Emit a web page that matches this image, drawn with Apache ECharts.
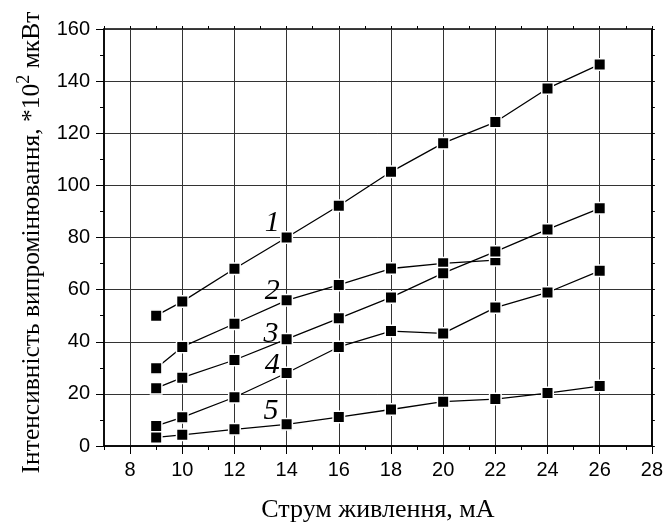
<!DOCTYPE html>
<html lang="uk">
<head>
<meta charset="UTF-8">
<title>Інтенсивність випромінювання</title>
<script src="https://cdn.jsdelivr.net/npm/echarts@6/dist/echarts.min.js"></script>
<style>
    html,body{margin:0;padding:0;background:#fff}
    #main{width:666px;height:528px}
</style>
</head>
<body>
<div id="main"></div>
<script>
    // струм, мА
    var current = [9, 10, 12, 14, 16, 18, 20, 22, 24, 26];
    // криві 1..5 (*10^2 мкВт)
    var curve1 = [50, 55.4, 68, 80, 92.2, 105.2, 116.2, 124.3, 137.2, 146.4];
    var curve2 = [29.8, 38, 46.9, 55.9, 61.8, 68.1, 70.1, 71.3];
    var curve3 = [22.2, 26.2, 33, 41, 49, 57, 66.3, 74.6, 83.1, 91.2];
    var curve4 = [7.7, 11, 18.7, 28, 38, 44.1, 43.2, 53.1, 58.9, 67.2];
    var curve5 = [3.3, 4.3, 6.4, 8.3, 11.1, 14, 17, 18, 20.3, 23];
    // підписи кривих
    var tagText = ['1', '2', '3', '4', '5'];
    var tagX = [13.45, 13.45, 13.4, 13.45, 13.4];
    var tagY = [85.4, 59.3, 42.9, 31.0, 13.4];
    // поділки осі X
    var xMajor = [8, 10, 12, 14, 16, 18, 20, 22, 24, 26, 28];
    var xMinor = [7, 9, 11, 13, 15, 17, 19, 21, 23, 25, 27];
    var xAll = [7, 8, 9, 10, 11, 12, 13, 14, 15, 16, 17, 18, 19, 20, 21, 22, 23, 24, 25, 26, 27, 28];

    function pairs(ys) {
        var out = [];
        for (var i = 0; i < ys.length; i++) out.push([current[i], ys[i]]);
        return out;
    }

    var lineSeries = [curve1, curve2, curve3, curve4, curve5].map(function (ys) {
        return {
            type: 'line',
            data: pairs(ys),
            symbol: 'rect',
            symbolSize: 11.5,
            lineStyle: {color: '#000', width: 1.3},
            itemStyle: {color: '#000', borderColor: '#fff', borderWidth: 1.5},
            z: 3,
            animation: false
        };
    });

    var tags = [];
    for (var i = 0; i < tagText.length; i++) tags.push({value: [tagX[i], tagY[i]], name: tagText[i]});
    lineSeries.push({
        type: 'scatter',
        data: tags,
        symbolSize: 0,
        itemStyle: {opacity: 1},
        label: {
            show: true, position: 'inside',
            formatter: function (p) { return p.name; },
            fontFamily: 'Liberation Serif', fontStyle: 'italic', fontSize: 30, color: '#000'
        },
        z: 4,
        animation: false
    });

    var tickFont = {fontFamily: 'Liberation Sans', fontSize: 20, color: '#000'};
    var blackLine = {color: '#000', width: 1.5};

    var chart = echarts.init(document.getElementById('main'));
    chart.setOption({
        backgroundColor: '#fff',
        grid: {left: 104, right: 12, top: 29, bottom: 81, show: true, borderColor: '#000', borderWidth: 1.5},
        xAxis: [{
            type: 'value', min: 7, max: 28, position: 'bottom',
            name: 'Струм живлення, мА', nameLocation: 'middle', nameGap: 51,
            nameTextStyle: {fontFamily: 'Liberation Serif', fontSize: 26, color: '#000'},
            axisLine: {show: true, onZero: false, lineStyle: blackLine},
            axisTick: {show: true, length: 8, customValues: xMajor, lineStyle: {color: '#000'}},
            axisLabel: Object.assign({margin: 14, customValues: xMajor}, tickFont),
            splitLine: {show: true, lineStyle: {color: '#333', width: 1}}
        }, {
            type: 'value', min: 7, max: 28, position: 'bottom',
            axisLine: {show: false, onZero: false},
            axisTick: {show: true, length: 4, customValues: xMinor, lineStyle: {color: '#000'}},
            axisLabel: {show: false}, splitLine: {show: false}
        }, {
            type: 'value', min: 7, max: 28, position: 'top',
            axisLine: {show: false, onZero: false},
            axisTick: {show: true, length: 3, customValues: xAll, lineStyle: {color: '#000'}},
            axisLabel: {show: false}, splitLine: {show: false}
        }],
        yAxis: [{
            type: 'value', min: 0, max: 160, interval: 20,
            name: '{m|Інтенсивність випромінювання, *10}{s|2}{m| мкВт}',
            nameLocation: 'middle', nameGap: 56,
            nameTextStyle: {
                padding: [0, 10, 0, 0],
                rich: {
                    m: {fontFamily: 'Liberation Serif', fontSize: 25.5, color: '#000', lineHeight: 30, verticalAlign: 'bottom'},
                    s: {fontFamily: 'Liberation Serif', fontSize: 18, color: '#000', lineHeight: 30, verticalAlign: 'top'}
                }
            },
            axisLine: {show: true, onZero: false, lineStyle: blackLine},
            axisTick: {show: true, length: 8, lineStyle: {color: '#000'}},
            minorTick: {show: true, splitNumber: 2, length: 4, lineStyle: {color: '#000'}},
            axisLabel: Object.assign({margin: 14}, tickFont),
            splitLine: {show: true, lineStyle: {color: '#333', width: 1}}
        }, {
            type: 'value', min: 0, max: 160, interval: 20, position: 'right',
            axisLine: {show: true, onZero: false, lineStyle: blackLine},
            axisTick: {show: true, length: 3, lineStyle: {color: '#000'}},
            minorTick: {show: true, splitNumber: 2, length: 3, lineStyle: {color: '#000'}},
            axisLabel: {show: false}, splitLine: {show: false}
        }],
        series: lineSeries
    });
</script>
</body>
</html>
